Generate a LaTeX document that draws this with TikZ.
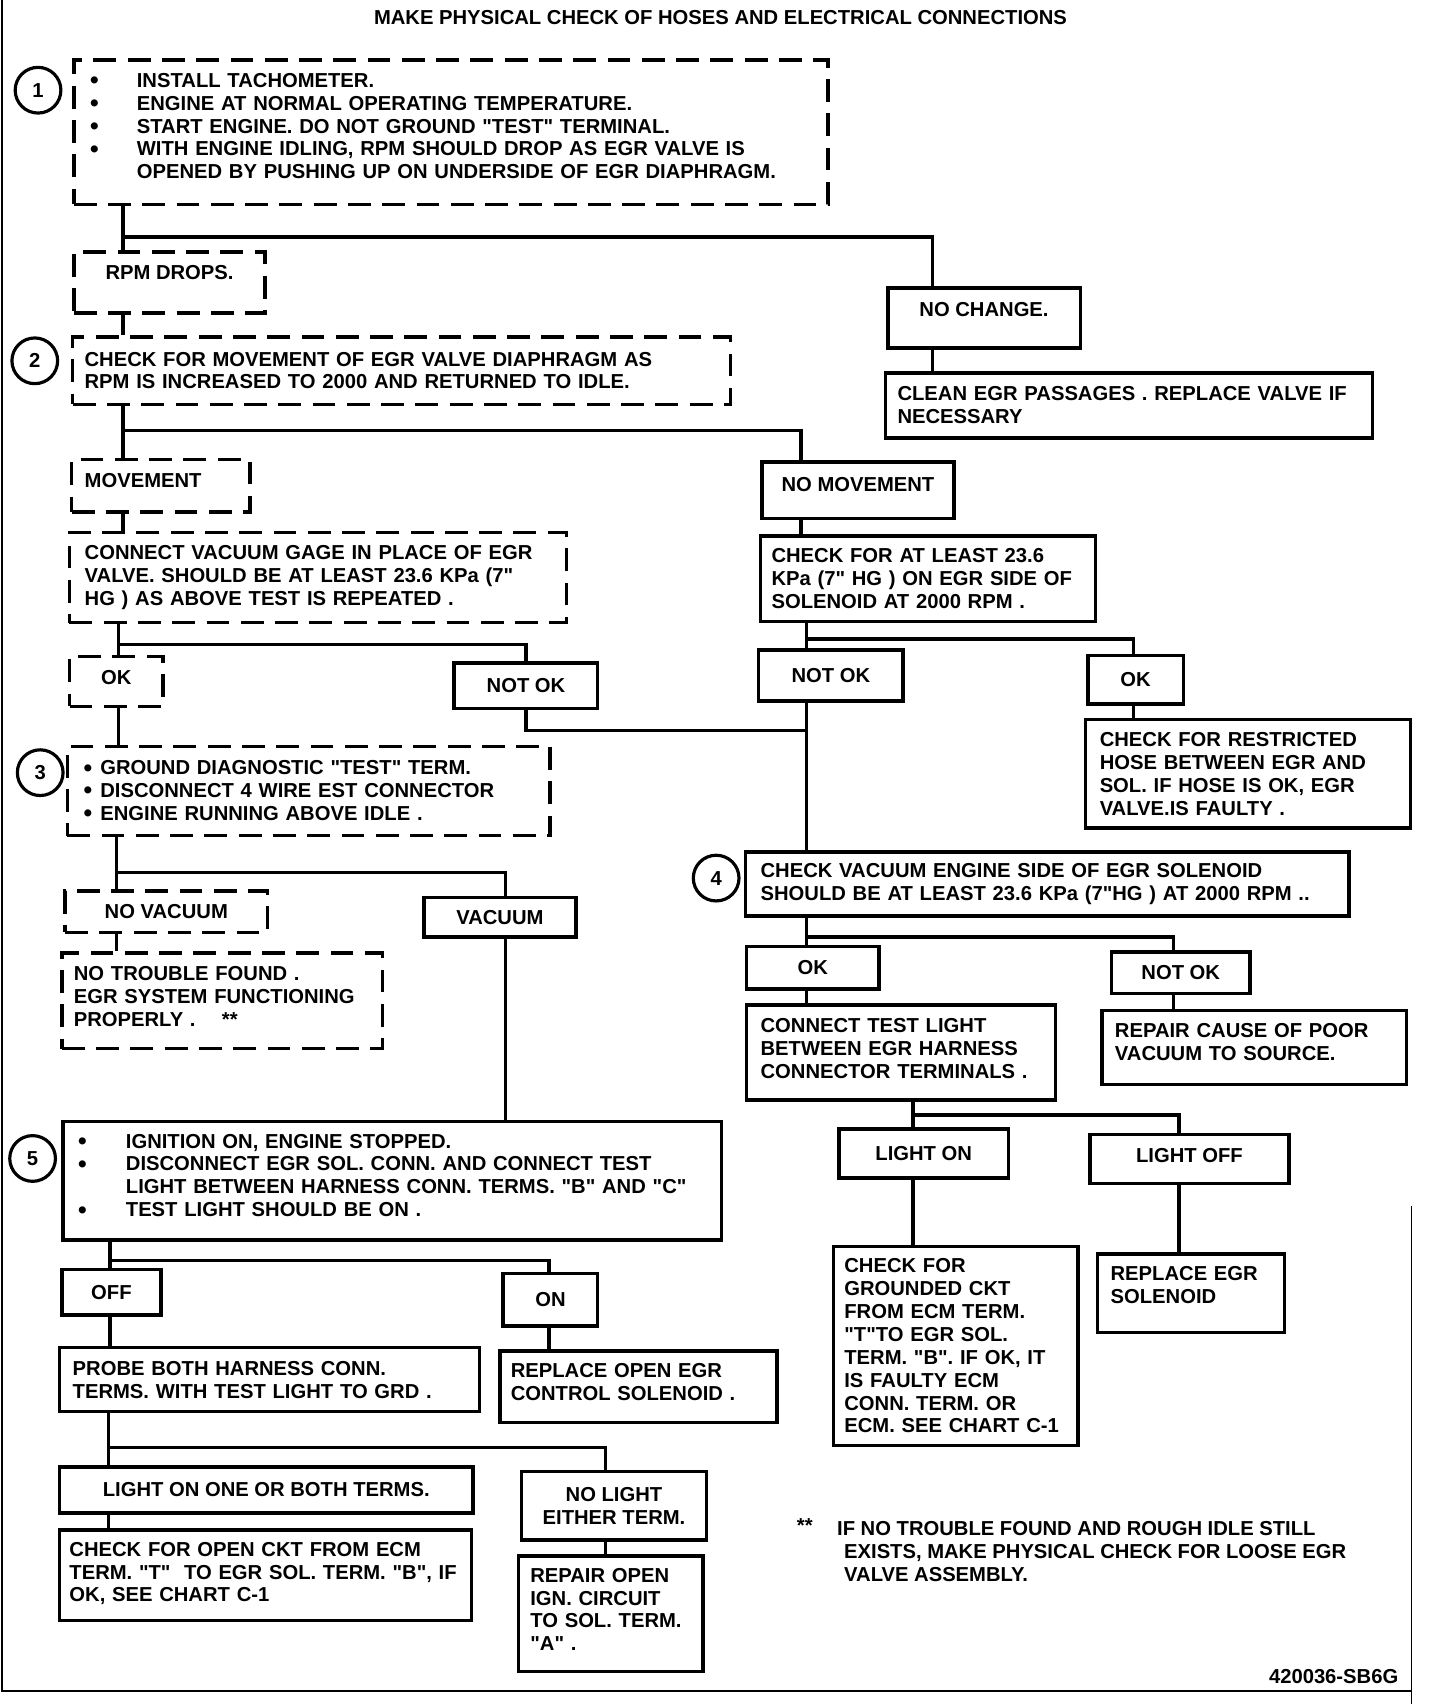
\documentclass[tikz,border=0pt]{standalone}
\usepackage{fontspec}
\setmainfont{Liberation Sans}
\newcommand{\sink}[1]{\rule[-#1]{0pt}{#1}}
\newcommand{\bul}[1]{\makebox[#1][l]{\raisebox{-0.8pt}{\fontsize{14}{13}\selectfont\textbullet}}}
\newcommand{\qq}{\textquotedbl}
\tikzset{
	chart/.style={font=\fontsize{11.5}{13}\selectfont\bfseries},
	sbox/.style={draw, line width=2pt, inner sep=0pt, align=center},
	dbox/.style={sbox, dash pattern=on 13pt off 6.5pt},
	wh/.style 2 args={minimum width=#1*0.61845pt, minimum height=#2*0.61845pt},
	lbox/.style={align=left, text width=#1},
	num/.style={draw, circle, line width=1.8pt, minimum size=26pt, inner sep=0pt},
	link/.style={line width=2pt},
}
\begin{document}
\begin{tikzpicture}[x=0.021736cm, y=-0.021736cm, chart]
	\useasboundingbox (0,0) rectangle (1325,1568);
	% frame of the sheet
	\draw[line width=1.2pt] (1.5,0) -- (1.5,1556) -- (1298,1556);
	\draw[line width=0.6pt] (1299,1110) -- (1299,1568);
	
	\node (title) at (663,16) {MAKE PHYSICAL CHECK OF HOSES AND ELECTRICAL CONNECTIONS};
	
	% --- step numbers
	\node[num] (n1) at (35,83) {1};
	\node[num] (n2) at (32,332) {2};
	\node[num] (n3) at (37,711) {3};
	\node[num] (n4) at (659,808) {4};
	\node[num] (n5) at (30,1066) {5};
	
	% --- top of the chart
	\node[dbox, wh={694}{133}, lbox=410.6pt] (step1) at (415,121.5) {\bul{26.6pt}INSTALL TACHOMETER.\\
		\bul{26.6pt}ENGINE AT NORMAL OPERATING TEMPERATURE.\\
		\bul{26.6pt}START ENGINE.  DO NOT GROUND \qq TEST\qq\ TERMINAL.\\
		\bul{26.6pt}WITH ENGINE IDLING, RPM SHOULD DROP AS EGR VALVE IS\\
		\hspace*{26.6pt}OPENED BY PUSHING UP ON UNDERSIDE OF EGR DIAPHRAGM.\sink{6.8pt}};
	\node[dbox, wh={176}{56}] (rpm) at (156,260) {RPM DROPS.\sink{11pt}};
	\node[sbox, wh={177}{55}] (nochange) at (905.5,292.5) {NO CHANGE.\sink{9.3pt}};
	\node[sbox, wh={448}{60}, lbox=263.5pt] (clean) at (1039,373) {CLEAN EGR PASSAGES . REPLACE VALVE IF\\NECESSARY};
	\node[dbox, wh={605}{62}, lbox=360.6pt] (step2) at (369.5,341) {CHECK FOR MOVEMENT OF EGR VALVE DIAPHRAGM  AS\\RPM IS INCREASED TO 2000 AND RETURNED TO IDLE.};
	\node[dbox, wh={164}{48}, lbox=86.6pt] (movement) at (148,447) {MOVEMENT\sink{6.2pt}};
	\node[sbox, wh={177}{52}] (nomove) at (789.5,451) {NO MOVEMENT\sink{6.2pt}};
	\node[dbox, wh={457}{83}, lbox=265.3pt] (gage) at (292.5,531.5) {CONNECT VACUUM GAGE IN PLACE OF EGR\\VALVE.  SHOULD BE AT LEAST 23.6 KPa (7\qq\\HG ) AS ABOVE TEST IS REPEATED .};
	\node[sbox, wh={308}{79}, lbox=178.1pt] (atleast) at (854,532.5) {CHECK FOR AT LEAST 23.6\\KPa (7\qq\ HG ) ON EGR SIDE OF\\SOLENOID AT 2000 RPM .};
	
	% --- ok / not ok after the gage test
	\node[dbox, wh={86}{46}] (okL) at (107,627) {OK\sink{5pt}};
	\node[sbox, wh={132}{42}] (notokL) at (484,631) {NOT OK};
	\node[sbox, wh={133}{47}] (notokM) at (764.5,621.5) {NOT OK};
	\node[sbox, wh={88}{45}] (okR) at (1045,625.5) {OK};
	\node[sbox, wh={299}{100}, lbox=168.8pt] (restrict) at (1148.5,712) {CHECK FOR RESTRICTED\\HOSE BETWEEN EGR AND\\SOL.  IF HOSE IS OK,  EGR\\VALVE.IS FAULTY .};
	\node[dbox, wh={444}{82}, lbox=256pt] (step3) at (284,728) {\bul{9.5pt}GROUND DIAGNOSTIC \qq TEST\qq\ TERM.\\
		\bul{9.5pt}DISCONNECT 4 WIRE EST CONNECTOR\\
		\bul{9.5pt}ENGINE RUNNING ABOVE IDLE .};
	\node[sbox, wh={555}{59}, lbox=325.9pt] (step4) at (963.5,813.5) {CHECK VACUUM ENGINE SIDE OF EGR SOLENOID\\SHOULD BE AT LEAST 23.6 KPa (7\qq HG ) AT 2000 RPM ..};
	
	% --- vacuum branch
	\node[dbox, wh={186}{38}] (novac) at (153,839) {NO VACUUM};
	\node[sbox, wh={140}{36}] (vacuum) at (460,844) {VACUUM};
	\node[dbox, wh={295}{88}, lbox=168.8pt] (notrouble) at (204.5,921) {NO TROUBLE FOUND .\\EGR SYSTEM FUNCTIONING\\PROPERLY .\hspace{15pt}**\sink{5pt}};
	\node[sbox, wh={122}{39}] (ok4) at (748,890.5) {OK};
	\node[sbox, wh={127}{38}] (notokR) at (1086.5,895) {NOT OK};
	\node[sbox, wh={284}{87}, lbox=159.6pt] (testlight) at (829,968.5) {CONNECT TEST LIGHT\\BETWEEN EGR HARNESS\\CONNECTOR TERMINALS .\sink{5pt}};
	\node[sbox, wh={280}{68}, lbox=158.3pt] (repaircause) at (1154,964) {REPAIR CAUSE OF POOR\\VACUUM TO SOURCE.\sink{6.8pt}};
	\node[sbox, wh={156}{45}] (lighton) at (850,1061.5) {LIGHT ON};
	\node[sbox, wh={183}{45}] (lightoff) at (1094.5,1066.5) {LIGHT OFF\sink{4.3pt}};
	\node[sbox, wh={225}{183}, lbox=126.8pt] (grounded) at (879.5,1238.5) {CHECK FOR\\GROUNDED CKT\\FROM ECM TERM.\\\qq T\qq TO EGR SOL.\\TERM. \qq B\qq. IF OK, IT\\IS FAULTY ECM\\CONN. TERM. OR\\ECM.  SEE CHART C-1};
	\node[sbox, wh={172}{72}, lbox=91.5pt] (replaceegr) at (1096,1190) {REPLACE EGR\\SOLENOID\sink{9.3pt}};
	
	% --- step 5 and below
	\node[sbox, wh={606}{109}, lbox=357.5pt] (step5) at (361,1086.5) {\bul{27.2pt}IGNITION ON, ENGINE STOPPED.\\
		\bul{27.2pt}DISCONNECT EGR SOL. CONN. AND CONNECT TEST\\
		\hspace*{27.2pt}LIGHT BETWEEN HARNESS CONN. TERMS. \qq B\qq\ AND \qq C\qq\\
		\bul{27.2pt}TEST LIGHT SHOULD BE ON .\sink{6.2pt}};
	\node[sbox, wh={91}{42}] (off) at (102.5,1189) {OFF};
	\node[sbox, wh={87}{48}] (on) at (506.5,1196) {ON};
	\node[sbox, wh={386}{59}, lbox=223.9pt] (probe) at (248,1269.5) {PROBE BOTH HARNESS CONN.\\TERMS.  WITH TEST LIGHT TO GRD .};
	\node[sbox, wh={255}{66}, lbox=145.3pt] (replaceopen) at (587.5,1276) {REPLACE OPEN EGR\\CONTROL SOLENOID .\sink{5.6pt}};
	\node[sbox, wh={380}{42}] (lightone) at (245,1371) {LIGHT ON ONE OR BOTH TERMS.};
	\node[sbox, wh={170}{63}] (nolight) at (565,1385.5) {NO LIGHT\\EITHER TERM.};
	\node[sbox, wh={379}{83}, lbox=223.3pt] (opencirc) at (244.5,1449.5) {CHECK FOR OPEN CKT FROM ECM\\TERM. \qq T\qq\ \ TO EGR SOL. TERM. \qq B\qq, IF\\OK, SEE CHART C-1\sink{3.7pt}};
	\node[sbox, wh={170}{106}, lbox=91.5pt] (repairign) at (562,1485) {REPAIR OPEN\\IGN. CIRCUIT\\TO SOL. TERM.\\\qq A\qq\ .\sink{5pt}};
	
	% --- footnote and drawing number
	\node[anchor=west, inner sep=0pt] (stars) at (733,1404) {**};
	\node[anchor=north west, align=left, inner sep=0pt] (note) at (770,1400) {IF NO TROUBLE FOUND AND ROUGH IDLE STILL\\
		\hspace*{4pt}EXISTS, MAKE PHYSICAL CHECK FOR LOOSE EGR\\
		\hspace*{4pt}VALVE ASSEMBLY.};
	\node[anchor=base east, inner sep=0pt] (code) at (1287,1549) {420036-SB6G};
	
	% --- junctions of the branch lines
	\coordinate (t1) at (113,218);   \coordinate (t1r) at (858,218);
	\coordinate (t2) at (113,396);   \coordinate (t2r) at (737,396);
	\coordinate (t3) at (109,593);   \coordinate (t3r) at (484,593);
	\coordinate (t4) at (742,588);   \coordinate (t4r) at (1043,588);
	\coordinate (t4m) at (742,672);
	\coordinate (t5) at (107,803);   \coordinate (t5r) at (465,803);
	\coordinate (t6) at (742,862);   \coordinate (t6r) at (1080,862);
	\coordinate (t7) at (840,1026);  \coordinate (t7r) at (1085,1026);
	\coordinate (t8) at (101,1160);  \coordinate (t8r) at (505,1160);
	\coordinate (t9) at (100,1332);  \coordinate (t9r) at (557,1332);
	
	% branches: left goes straight down, right turns across
	\foreach \a/\b/\c/\l/\r in {step1/rpm/nochange/t1/t1r, step2/movement/nomove/t2/t2r,
		gage/okL/notokL/t3/t3r, atleast/notokM/okR/t4/t4r, step3/novac/vacuum/t5/t5r,
		step4/ok4/notokR/t6/t6r, testlight/lighton/lightoff/t7/t7r,
		step5/off/on/t8/t8r, probe/lightone/nolight/t9/t9r} {
		\draw[link] (\a.south -| \l) -- (\b.north -| \l);
		\draw[link] (\l) -| (\c.north -| \r);
	}
	
	% straight links
	\foreach \a/\b/\c in {rpm/step2/t1, nochange/clean/t1r, movement/gage/t2, nomove/atleast/t2r,
		okR/restrict/t4r, okL/step3/t3, notokM/step4/t4, novac/notrouble/t5, vacuum/step5/t5r,
		ok4/testlight/t6, notokR/repaircause/t6r, lighton/grounded/t7, lightoff/replaceegr/t7r,
		off/probe/t8, on/replaceopen/t8r, lightone/opencirc/t9, nolight/repairign/t9r}
		\draw[link] (\a.south -| \c) -- (\b.north -| \c);
	
	\draw[link] (notokL.south -| t3r) |- (t4m);
\end{tikzpicture}
\end{document}
